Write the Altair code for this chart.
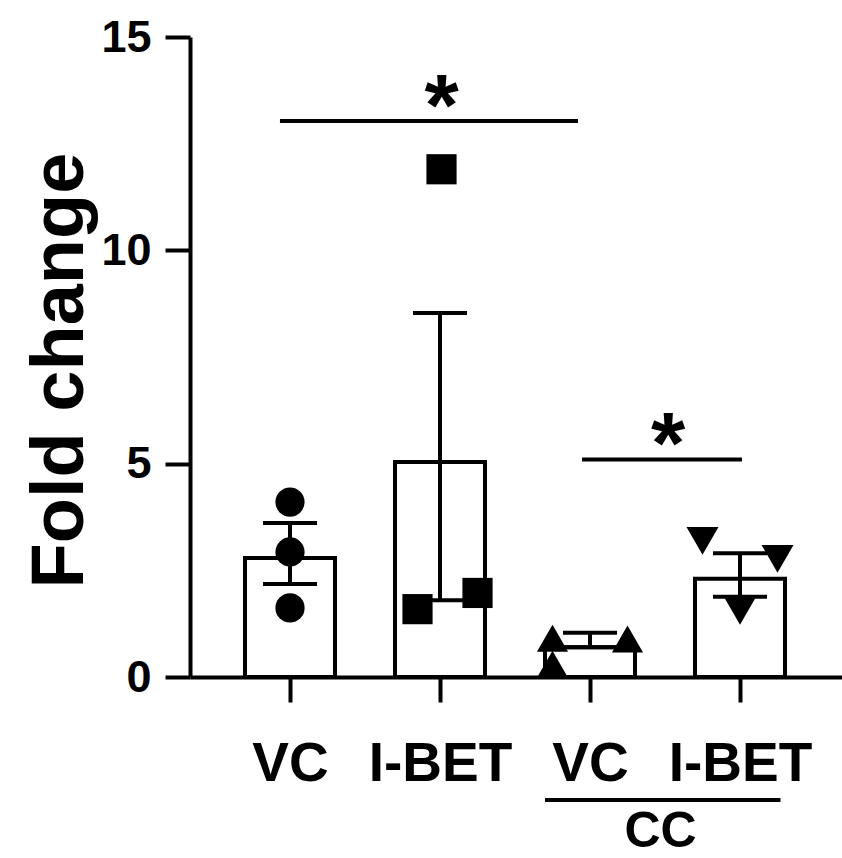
import altair as alt
import pandas as pd

# ---- data ----
groups = ["VC", "I-BET", "CC VC", "CC I-BET"]
tick_labels = ["VC", "I-BET", "VC", "I-BET"]
positions = [1, 2, 3, 4]
means = [2.79, 5.04, 0.70, 2.30]
err_low = [2.18, 1.80, 0.70, 1.88]
err_high = [3.61, 8.53, 1.04, 2.90]

pt_group = ["VC"] * 3 + ["I-BET"] * 3 + ["CC VC"] * 3 + ["CC I-BET"] * 3
pt_value = [4.10, 2.93, 1.62, 11.9, 1.59, 1.97, 0.91, 0.30, 0.89, 3.19, 2.77, 1.55]
pt_jitter = [0, 0, 0, 0.01, -0.15, 0.25, -0.25, -0.25, 0.25, -0.25, 0.25, 0]

sig_y = [13.03, 5.10]

FONT = "Liberation Sans"
INK = "#000000"

bars_df = pd.DataFrame({"group": groups, "pos": positions, "mean": means,
                        "lo": err_low, "hi": err_high})
pts_df = pd.DataFrame({"group": pt_group, "value": pt_value, "jit": pt_jitter})
pts_df["pos"] = [positions[groups.index(g)] for g in pt_group]

label_expr = "[" + ",".join("'%s'" % t for t in tick_labels) + "][datum.value - 1]"

xscale = alt.Scale(domain=[1 / 3, 1 / 3 + 652 / 150], nice=False, zero=False)
yscale = alt.Scale(domain=[0, 15], nice=False, zero=True)

x_axis = alt.Axis(values=positions, labelExpr=label_expr, title=None, grid=False,
                  tickSize=25, labelPadding=35, labelFontSize=55, labelFont=FONT,
                  labelFontWeight="bold", labelColor=INK, domainColor=INK,
                  domainWidth=4, tickColor=INK, tickWidth=4, labelAngle=0)
y_axis = alt.Axis(values=[0, 5, 10, 15], title="Fold change", grid=False,
                  tickSize=25, labelPadding=14, labelFontSize=45, labelFont=FONT,
                  labelFontWeight="bold", labelColor=INK, domainColor=INK,
                  domainWidth=4, tickColor=INK, tickWidth=4,
                  titleFont=FONT, titleFontSize=74, titleFontWeight="bold",
                  titleColor=INK, titleX=-108, titleY=333, titleAlign="center",
                  titleBaseline="alphabetic", titleAngle=270)

base = alt.Chart(bars_df)

bars = base.transform_calculate(
    xl="datum.pos - 0.3", xr="datum.pos + 0.3"
).mark_bar(fill="white", stroke=INK, strokeWidth=4).encode(
    x=alt.X("xl:Q", scale=xscale, axis=x_axis),
    x2="xr:Q",
    y=alt.Y("mean:Q", scale=yscale, axis=y_axis),
    y2=alt.datum(0),
)

err_v = base.mark_rule(color=INK, strokeWidth=4).encode(
    x="pos:Q", y="lo:Q", y2="hi:Q"
)

caps = base.transform_fold(["lo", "hi"], as_=["kind", "yv"]).transform_calculate(
    cl="datum.pos - 0.18", cr="datum.pos + 0.18"
).mark_rule(color=INK, strokeWidth=4).encode(
    x="cl:Q", x2="cr:Q", y="yv:Q"
)

points = alt.Chart(pts_df).transform_calculate(
    px="datum.pos + datum.jit"
).mark_point(filled=True, opacity=1, color=INK, strokeWidth=0).encode(
    x="px:Q",
    y="value:Q",
    shape=alt.Shape("group:N", scale=alt.Scale(
        domain=groups, range=["circle", "square", "triangle-up", "triangle-down"]),
        legend=None),
    size=alt.Size("group:N", scale=alt.Scale(domain=groups, range=[855, 1024, 900, 900]),
                  legend=None),
)

one = pd.DataFrame({"_": [0]})

sig1 = alt.Chart(one).mark_rule(color=INK, strokeWidth=4).encode(
    x=alt.datum(0.933), x2=alt.datum(2.92), y=alt.datum(sig_y[0]))
star1 = alt.Chart(one).mark_text(text="*", fontSize=88, font=FONT, fontWeight="bold",
                                 color=INK, baseline="alphabetic", dy=14).encode(
    x=alt.datum(2.01), y=alt.datum(sig_y[0]))
sig2 = alt.Chart(one).mark_rule(color=INK, strokeWidth=4).encode(
    x=alt.datum(2.947), x2=alt.datum(4.013), y=alt.datum(sig_y[1]))
star2 = alt.Chart(one).mark_text(text="*", fontSize=88, font=FONT, fontWeight="bold",
                                 color=INK, baseline="alphabetic", dy=14).encode(
    x=alt.datum(3.52), y=alt.datum(sig_y[1]))

cc_line = alt.Chart(one).mark_rule(color=INK, strokeWidth=4).encode(
    x=alt.datum(2.70), x2=alt.datum(4.27), y=alt.datum(-2.88))
cc_text = alt.Chart(one).mark_text(text="CC", fontSize=50, font=FONT, fontWeight="bold",
                                   color=INK, baseline="alphabetic", align="center").encode(
    x=alt.datum(3.47), y=alt.datum(-3.98))

chart = alt.layer(bars, err_v, caps, points, sig1, star1, sig2, star2, cc_line, cc_text).properties(
    width=652, height=640,
    autosize=alt.AutoSizeParams(type="none"),
    padding={"left": 190, "top": 37, "right": 0, "bottom": 181},
    background="white",
).configure_view(stroke=None)

chart.save("out.html", embed_options={"renderer": "svg", "actions": False})
